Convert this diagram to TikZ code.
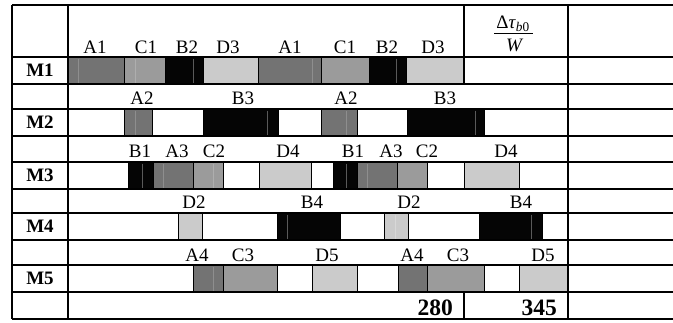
\documentclass[tikz,border=0pt]{standalone}
\usepackage{fontspec}
\setmainfont{Liberation Serif}
\definecolor{cA}{HTML}{737373}
\definecolor{cB}{HTML}{050505}
\definecolor{cC}{HTML}{9B9B9B}
\definecolor{cD}{HTML}{CBCBCB}
\definecolor{fA}{HTML}{8E8E8E}
\definecolor{fB}{HTML}{5A5A5A}
\definecolor{fC}{HTML}{AEAEAE}
\definecolor{fD}{HTML}{D8D8D8}
\begin{document}
\begin{tikzpicture}[x=1pt,y=-1pt,
  grid/.style={line width=1.1pt,black},
  gbox/.style={draw=black,line width=0.8pt},
  faint/.style={line width=0.8pt},
  lbl/.style={anchor=base,inner sep=0pt,font=\fontsize{19}{22}\selectfont},
  mlbl/.style={inner sep=0pt,font=\fontsize{19}{22}\selectfont\bfseries},
  numlbl/.style={anchor=base east,inner sep=0pt,font=\fontsize{23.5}{27}\selectfont\bfseries}]
\useasboundingbox (0,0) rectangle (673,322);
% bars
\foreach \a/\b/\t/\u/\c in {
  68/124/57/84/cA, 124/165/57/84/cC, 165/203/57/84/cB, 203/258/57/84/cD,
  258/321/57/84/cA, 321/369/57/84/cC, 369/406/57/84/cB, 406/464/57/84/cD,
  124/152/109/136/cA, 203/278/109/136/cB, 321/357/109/136/cA, 407/484/109/136/cB,
  128/153/162/189/cB, 153/193/162/189/cA, 193/223/162/189/cC, 259/311/162/189/cD,
  333/357/162/189/cB, 357/397/162/189/cA, 397/427/162/189/cC, 464/519/162/189/cD,
  178/202/213/240/cD, 277/340/213/240/cB, 384/408/213/240/cD, 479/542/213/240/cB,
  193/223/265/292/cA, 223/277/265/292/cC, 312/357/265/292/cD,
  398/427/265/292/cA, 427/484/265/292/cC, 519/567/265/292/cD}
  \filldraw[gbox,fill=\c] (\a,\t) rectangle (\b,\u);
% faint artefact lines inside bars
\foreach \x/\t/\u/\c in {
  78/57/84/fA, 135/57/84/fC, 193/57/84/fB, 312/57/84/fA, 396/57/84/fB,
  135/109/136/fA, 267/109/136/fB, 346/109/136/fA, 475/109/136/fB,
  142/162/189/fB, 163/162/189/fA, 213/162/189/fC, 346/162/189/fB, 367/162/189/fA,
  287/213/240/fB, 395/213/240/fD, 531/213/240/fB,
  213/265/292/fA}
  \draw[faint,\c] (\x,\t+1.5) -- (\x,\u-1.5);
% grid
\foreach \y in {5,57,84,109,136,162,189,213,240,265,292,319}
  \draw[grid] (12,\y) -- (673,\y);
\draw[grid] (12,5) -- (12,319);
\draw[grid] (68,5) -- (68,319);
\draw[grid] (568,5) -- (568,319);
\draw[grid] (464,5) -- (464,84);
\draw[grid] (464,292) -- (464,319);
% machine labels
\foreach \s/\y [count=\i] in {M1/70.5, M2/122.5, M3/175.5, M4/226.5, M5/278.5}
  \node[mlbl] (m\i) at (40,\y) {\s};
% operation labels
\foreach \s/\x [count=\i] in {A1/95, C1/146, B2/187, D3/228, A1/290, C1/345, B2/387, D3/433}
  \node[lbl] (ra\i) at (\x,53) {\s};
\foreach \s/\x [count=\i] in {A2/142, B3/243, A2/346, B3/445}
  \node[lbl] (rb\i) at (\x,104.5) {\s};
\foreach \s/\x [count=\i] in {B1/140, A3/177, C2/214, D4/288, B1/353, A3/391, C2/427, D4/506}
  \node[lbl] (rc\i) at (\x,157.5) {\s};
\foreach \s/\x [count=\i] in {D2/194, B4/312, D2/409, B4/521}
  \node[lbl] (rd\i) at (\x,208) {\s};
\foreach \s/\x [count=\i] in {A4/197, C3/243, D5/327, A4/412, C3/458, D5/543}
  \node[lbl] (re\i) at (\x,261) {\s};
% header fraction
\node[lbl] (num) at (513,28.5) {Δ\textit{τ}\textsubscript{\textit{b}0}};
\coordinate (barL) at (494,33.5);
\coordinate (barR) at (533,33.5);
\draw[line width=0.9pt] (barL) -- (barR);
\node[lbl,font=\fontsize{19}{22}\selectfont\itshape] (den) at (514,51) {W};
% totals
\node[numlbl] (t280) at (453,315) {280};
\node[numlbl] (t345) at (557,315) {345};
\end{tikzpicture}
\end{document}
